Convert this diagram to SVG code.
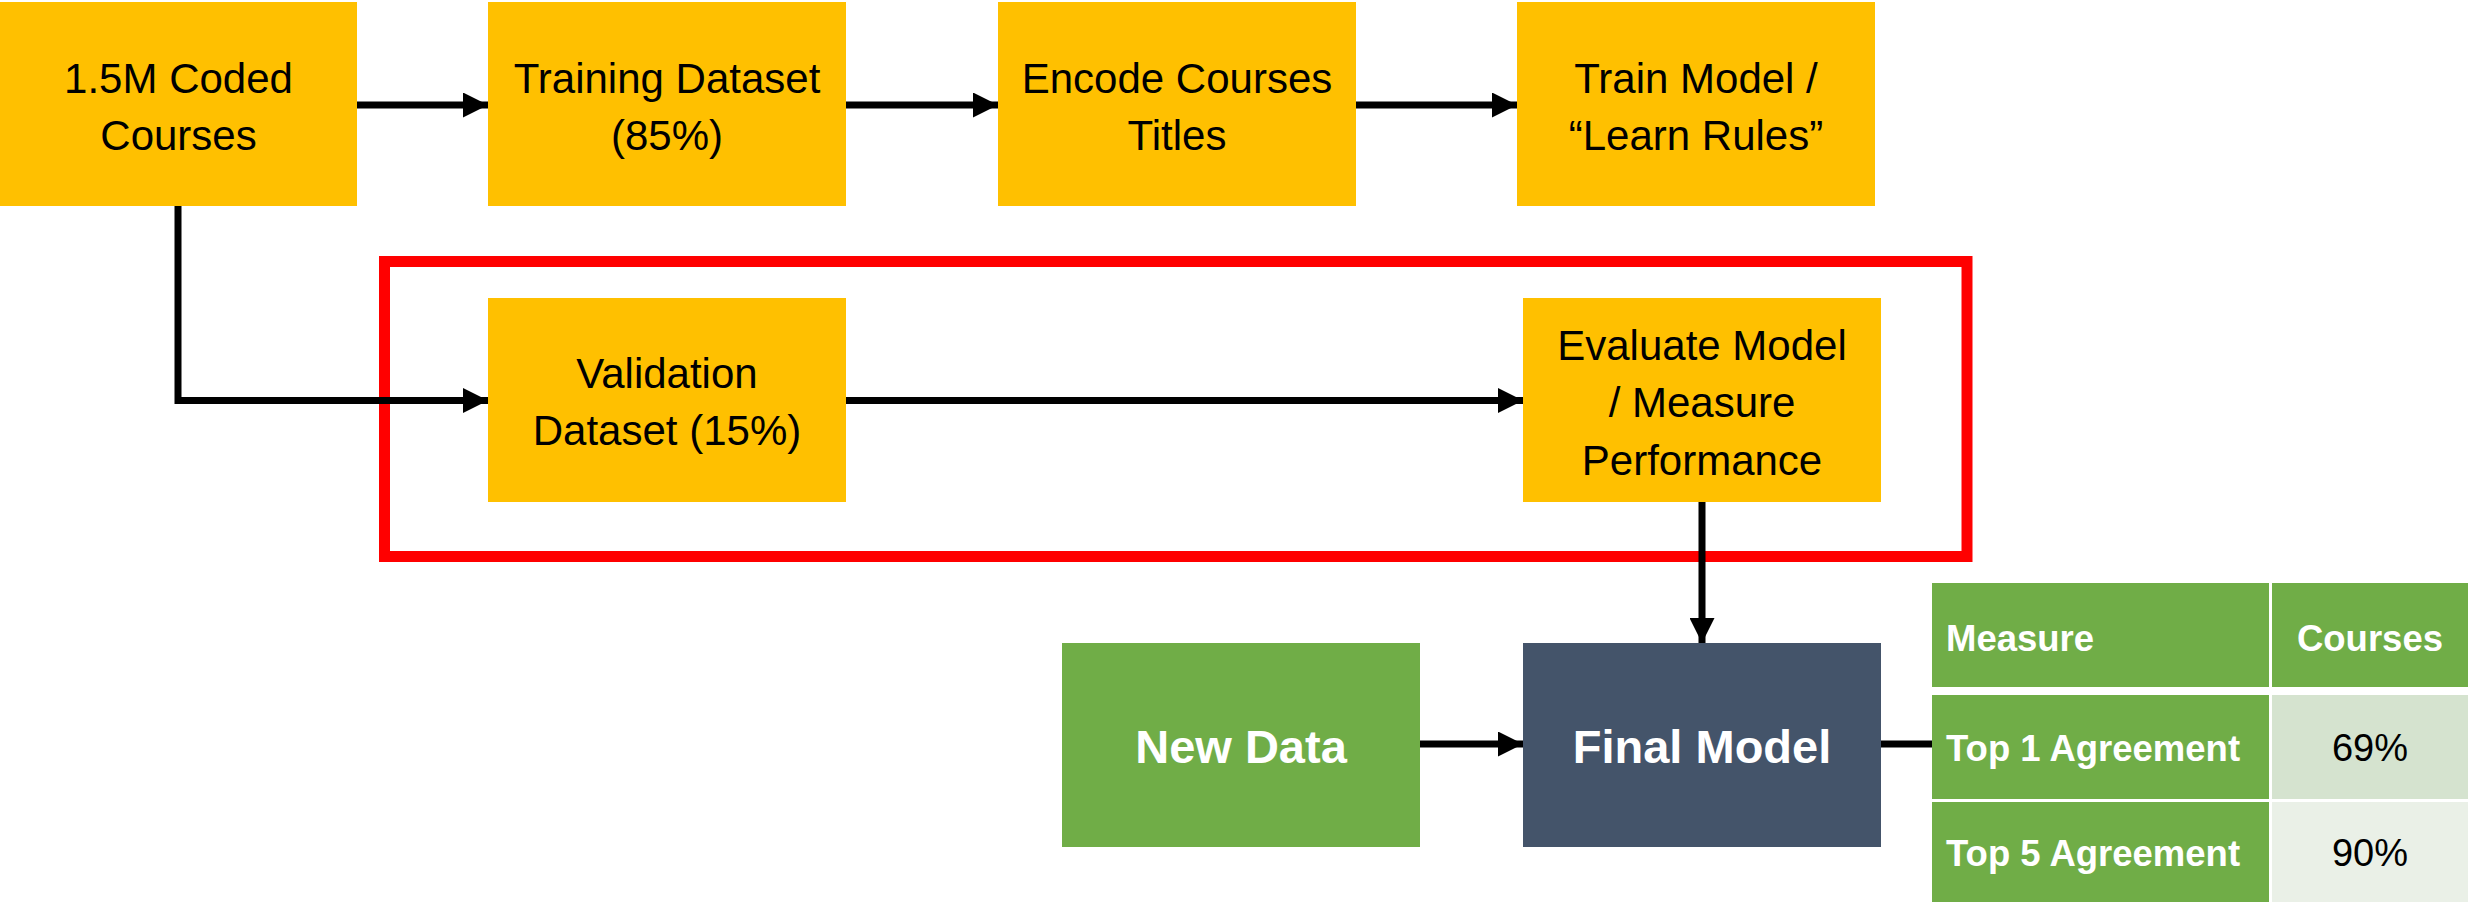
<svg xmlns="http://www.w3.org/2000/svg" width="2468" height="902" viewBox="0 0 2468 902">
  <style>
    .step { fill: #FFC000; }
    .green { fill: #70AD47; }
    .model { fill: #44546A; }
    .lbl { font-family: "Liberation Sans", Arial, sans-serif; font-size: 42px; fill: #000; text-anchor: middle; }
    .big { font-family: "Liberation Sans", Arial, sans-serif; font-size: 47px; font-weight: bold; fill: #fff; text-anchor: middle; }
    .th { font-family: "Liberation Sans", Arial, sans-serif; font-size: 36.5px; font-weight: bold; fill: #fff; }
    .td { font-family: "Liberation Sans", Arial, sans-serif; font-size: 38px; fill: #000; text-anchor: middle; }
    .conn { stroke: #000; stroke-width: 7; fill: none; }
  </style>
  <defs>
    <marker id="arrow" markerUnits="userSpaceOnUse" markerWidth="25" markerHeight="25" viewBox="0 0 25 25" refX="25" refY="12.5" orient="auto">
      <path d="M0,0 L25,12.5 L0,25 Z" fill="#000"/>
    </marker>
  </defs>

  <rect width="2468" height="902" fill="#fff"/>

  <!-- validation frame -->
  <rect id="validation-frame" x="384.5" y="261.5" width="1582.5" height="295" fill="none" stroke="#FF0000" stroke-width="11"/>

  <g id="coded-courses">
    <rect class="step" x="0" y="2" width="357" height="204"/>
    <text class="lbl" x="178.5" y="93">1.5M Coded</text>
    <text class="lbl" x="178.5" y="150">Courses</text>
  </g>
  <g id="training-dataset">
    <rect class="step" x="488" y="2" width="358" height="204"/>
    <text class="lbl" x="667" y="93">Training Dataset</text>
    <text class="lbl" x="667" y="150">(85%)</text>
  </g>
  <g id="encode-titles">
    <rect class="step" x="998" y="2" width="358" height="204"/>
    <text class="lbl" x="1177" y="93">Encode Courses</text>
    <text class="lbl" x="1177" y="150">Titles</text>
  </g>
  <g id="train-model">
    <rect class="step" x="1517" y="2" width="358" height="204"/>
    <text class="lbl" x="1696" y="93">Train Model /</text>
    <text class="lbl" x="1696" y="150">“Learn Rules”</text>
  </g>
  <g id="validation-dataset">
    <rect class="step" x="488" y="298" width="358" height="204"/>
    <text class="lbl" x="667" y="388">Validation</text>
    <text class="lbl" x="667" y="445">Dataset (15%)</text>
  </g>
  <g id="evaluate-model">
    <rect class="step" x="1523" y="298" width="358" height="204"/>
    <text class="lbl" x="1702" y="360">Evaluate Model</text>
    <text class="lbl" x="1702" y="417">/ Measure</text>
    <text class="lbl" x="1702" y="475">Performance</text>
  </g>
  <g id="new-data">
    <rect class="green" x="1062" y="643" width="358" height="204"/>
    <text class="big" x="1241" y="763">New Data</text>
  </g>
  <g id="final-model">
    <rect class="model" x="1523" y="643" width="358" height="204"/>
    <text class="big" x="1702" y="763">Final Model</text>
  </g>

  <g id="results-table">
    <rect class="green" x="1932" y="583" width="337" height="104"/>
    <rect class="green" x="2272" y="583" width="196" height="104"/>
    <rect class="green" x="1932" y="695" width="337" height="104"/>
    <rect x="2272" y="695" width="196" height="104" fill="#D5E3CF"/>
    <rect class="green" x="1932" y="802" width="337" height="100"/>
    <rect x="2272" y="802" width="196" height="100" fill="#EAF0E7"/>
    <text class="th" x="1946" y="651">Measure</text>
    <text class="th" x="2370" y="651" text-anchor="middle">Courses</text>
    <text class="th" x="1946" y="761">Top 1 Agreement</text>
    <text class="td" x="2370" y="761">69%</text>
    <text class="th" x="1946" y="866">Top 5 Agreement</text>
    <text class="td" x="2370" y="866">90%</text>
  </g>

  <g id="connectors">
    <line class="conn" x1="357" y1="105" x2="488" y2="105" marker-end="url(#arrow)"/>
    <line class="conn" x1="846" y1="105" x2="998" y2="105" marker-end="url(#arrow)"/>
    <line class="conn" x1="1356" y1="105" x2="1517" y2="105" marker-end="url(#arrow)"/>
    <polyline class="conn" points="178,206 178,400.5 488,400.5" marker-end="url(#arrow)"/>
    <line class="conn" x1="846" y1="400.5" x2="1523" y2="400.5" marker-end="url(#arrow)"/>
    <line class="conn" x1="1702" y1="502" x2="1702" y2="643" marker-end="url(#arrow)"/>
    <line class="conn" x1="1420" y1="744" x2="1523" y2="744" marker-end="url(#arrow)"/>
    <line class="conn" x1="1881" y1="744" x2="1932" y2="744"/>
  </g>
</svg>
